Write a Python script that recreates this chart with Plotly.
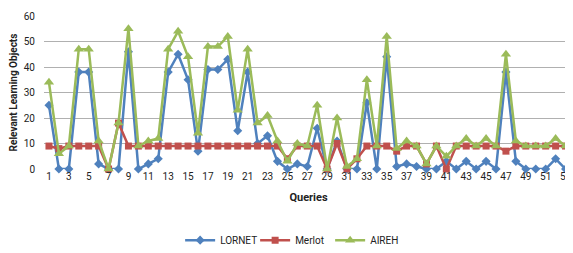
import plotly.graph_objects as go

queries = list(range(1, 54))
lornet = [25, 0, 0, 38, 38, 2, 0, 0, 46, 0, 2, 4, 38, 45, 35, 7, 39, 39, 43, 15,
          38, 10, 13, 3, 0, 2, 1, 16, 0, 11, 0, 0, 26, 0, 44, 1, 2, 1, 0, 0,
          3, 0, 3, 0, 3, 0, 38, 3, 0, 0, 0, 4, 0]
merlot = [9, 8, 9, 9, 9, 9, 0, 18, 9, 9, 9, 9, 9, 9, 9, 9, 9, 9, 9, 9,
          9, 9, 9, 9, 4, 9, 9, 9, 0, 10, 0, 4, 9, 9, 9, 7, 9, 9, 2, 9,
          0, 9, 9, 9, 9, 9, 7, 9, 9, 9, 9, 9, 9]
aireh = [34, 6, 9, 47, 47, 11, 0, 18, 55, 9, 11, 12, 47, 54, 44, 14, 48, 48, 52, 23,
         47, 18, 21, 11, 3, 10, 9, 25, 0, 20, 1, 4, 35, 9, 52, 8, 11, 9, 2, 9,
         5, 9, 12, 9, 12, 9, 45, 11, 9, 9, 9, 12, 9]
tick_vals = list(range(1, 54, 2))
y_ticks = [0, 10, 20, 30, 40, 50, 60]

fig = go.Figure()
fig.add_trace(go.Scatter(x=queries, y=lornet, name="LORNET", mode="lines+markers",
                         line=dict(color="#4F81BD", width=2.5),
                         marker=dict(symbol="diamond", size=7, color="#4F81BD"),
                         cliponaxis=False))
fig.add_trace(go.Scatter(x=queries, y=merlot, name="Merlot", mode="lines+markers",
                         line=dict(color="#C0504D", width=2.5),
                         marker=dict(symbol="square", size=7, color="#C0504D"),
                         cliponaxis=False))
fig.add_trace(go.Scatter(x=queries, y=aireh, name="AIREH", mode="lines+markers",
                         line=dict(color="#9BBB59", width=2.5),
                         marker=dict(symbol="triangle-up", size=9, color="#9BBB59"),
                         cliponaxis=False))

fig.update_layout(
    width=565, height=245,
    margin=dict(l=36, r=0, t=8, b=84, autoexpand=False),
    paper_bgcolor="white", plot_bgcolor="white",
    font=dict(family="Liberation Sans Narrow, Roboto, sans-serif", size=10, color="#222"),
    showlegend=True,
    legend=dict(orientation="h", x=0.47, xanchor="center", y=-0.465, yanchor="middle",
                font=dict(size=10), itemwidth=30, tracegroupgap=0,
                entrywidth=30, entrywidthmode="pixels"),
    xaxis=dict(range=[0.5, 53.75], tickmode="array", tickvals=tick_vals,
               showgrid=False, zeroline=False, showline=False, ticks="",
               automargin=False,
               title=dict(text="<b>Queries</b>", font=dict(size=11, family="Roboto, sans-serif"),
                          standoff=12)),
    yaxis=dict(range=[0, 60], tickmode="array", tickvals=y_ticks,
               showgrid=True, gridcolor="#B0B0B0", gridwidth=1, zeroline=False,
               showline=False, ticks="", ticklabelstandoff=8, automargin=False,
               title=dict(text="<b>Relevant Learning Objects</b>",
                          font=dict(size=10, family="Roboto, sans-serif"), standoff=8)),
)

fig.write_html("out.html")
